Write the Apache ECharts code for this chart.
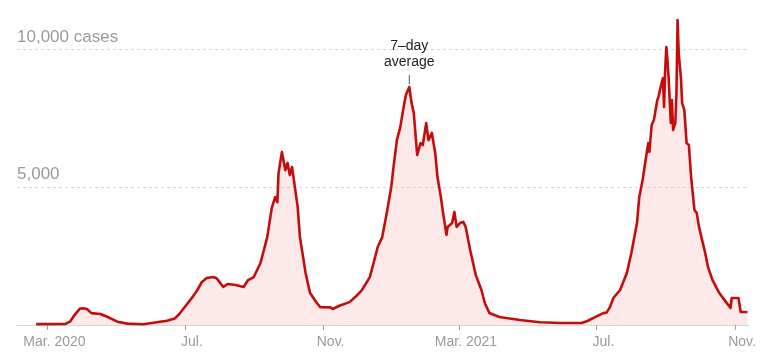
<!DOCTYPE html>
<html>
<head>
<meta charset="utf-8">
<script src="https://cdn.jsdelivr.net/npm/echarts@6/dist/echarts.min.js"></script>
<style>
html,body{margin:0;padding:0;background:#fff;}
#chart{width:770px;height:355px;}
</style>
</head>
<body>
<div id="chart"></div>
<script>
// Dates and 7-day average cases
const dates = [
 '2020-02-20','2020-03-17','2020-03-21','2020-03-25','2020-03-30','2020-04-02','2020-04-05','2020-04-09','2020-04-17','2020-04-23',
 '2020-05-02','2020-05-11','2020-05-25','2020-06-03','2020-06-15','2020-06-22','2020-06-26','2020-07-01','2020-07-08','2020-07-12',
 '2020-07-16','2020-07-20','2020-07-26','2020-07-29','2020-08-04','2020-08-08','2020-08-15','2020-08-22','2020-08-26','2020-08-31',
 '2020-09-06','2020-09-12','2020-09-16','2020-09-19','2020-09-21','2020-09-22','2020-09-25','2020-09-28','2020-09-30','2020-10-02',
 '2020-10-04','2020-10-06','2020-10-09','2020-10-11','2020-10-16','2020-10-20','2020-10-26','2020-10-29','2020-11-07','2020-11-09',
 '2020-11-15','2020-11-24','2020-12-01','2020-12-05','2020-12-12','2020-12-16','2020-12-19','2020-12-23','2020-12-27','2020-12-31',
 '2021-01-02','2021-01-05','2021-01-08','2021-01-11','2021-01-13','2021-01-16','2021-01-18','2021-01-20','2021-01-23','2021-01-26',
 '2021-01-28','2021-01-31','2021-02-02','2021-02-05','2021-02-08','2021-02-10','2021-02-13','2021-02-15','2021-02-18','2021-02-19',
 '2021-02-23','2021-02-25','2021-02-27','2021-03-02','2021-03-05','2021-03-07','2021-03-11','2021-03-16','2021-03-21','2021-03-24',
 '2021-03-28','2021-04-06','2021-04-24','2021-05-12','2021-05-30','2021-06-18','2021-06-23','2021-06-28','2021-07-07','2021-07-10',
 '2021-07-13','2021-07-16','2021-07-22','2021-07-28','2021-08-01','2021-08-06','2021-08-08','2021-08-11','2021-08-15','2021-08-16',
 '2021-08-17','2021-08-19','2021-08-21','2021-08-24','2021-08-25','2021-08-27','2021-08-29','2021-08-30','2021-08-31','2021-09-01',
 '2021-09-02','2021-09-03','2021-09-05','2021-09-06','2021-09-07','2021-09-09','2021-09-10','2021-09-11','2021-09-12','2021-09-14',
 '2021-09-15','2021-09-17','2021-09-19','2021-09-21','2021-09-23','2021-09-26','2021-09-28','2021-09-30','2021-10-05','2021-10-08',
 '2021-10-12','2021-10-18','2021-10-24','2021-10-28','2021-10-29','2021-11-04','2021-11-06','2021-11-10','2021-11-12'
];
const cases = [
 30,40,120,360,600,610,580,430,400,300,
 120,50,25,80,155,240,400,660,1030,1270,
 1560,1700,1740,1700,1380,1490,1450,1380,1630,1740,
 2250,3190,4250,4640,4460,5510,6280,5620,5880,5440,
 5730,5150,4280,3190,1890,1160,800,650,640,580,
 700,830,1090,1270,1740,2360,2830,3190,4060,5010,
 5730,6710,7180,7910,8350,8640,8060,7690,6170,6600,
 6530,7330,6710,6970,6240,5370,4640,4060,3270,3560,
 3700,4100,3560,3700,3740,3560,2720,1810,1270,800,
 435,290,180,100,70,75,145,250,430,450,
 650,980,1270,1890,2610,3700,4640,5260,6350,6600,
 6280,7260,7440,8160,8270,8640,8960,7910,9250,10090,
 9620,9000,7330,8160,7080,7330,8420,11070,9870,8960,
 8060,7800,6600,6530,5370,4170,4060,3560,2700,2100,
 1630,1160,830,620,980,980,470,470,460
];
// X tick dates and labels
const tickDates = ['2020-03-01','2020-07-01','2020-11-01','2021-03-01','2021-07-01','2021-11-01'];
const tickLabels = ['Mar. 2020','Jul.','Nov.','Mar. 2021','Jul.','Nov.'];
// X range
const xStart = '2020-02-03';
const xEnd = '2021-11-13';
// Y tick labels
const yTickValues = [5000, 10000];
const yTickLabels = ['5,000', '10,000 cases'];
// Annotation
const annotDate = '2021-01-16';
const annotText = '7–day\naverage';

// day number since 2020-03-01 (UTC, so no DST issues)
const dayNum = s => { const p = s.split('-').map(Number); return Math.round((Date.UTC(p[0], p[1]-1, p[2]) - Date.UTC(2020, 2, 1)) / 86400000); };
const tickDays = tickDates.map(dayNum);

const chart = echarts.init(document.getElementById('chart'), null, {renderer:'canvas'});
const font = '"Liberation Sans", Arial, sans-serif';
chart.setOption({
  animation: false,
  grid: {left: 17, right: 21.4, top: 15, bottom: 30},
  xAxis: {
    type: 'value',
    min: dayNum(xStart),
    max: dayNum(xEnd),
    axisLine: {show: true, onZero: false, lineStyle: {color: '#d6d6d6', width: 1}},
    axisTick: {show: true, customValues: tickDays, length: 5, lineStyle: {color: '#a0a0a0'}},
    axisLabel: {
      customValues: tickDays,
      margin: 10,
      padding: [0, 0, 0, 14],
      color: '#9a9a9a',
      fontSize: 14,
      fontFamily: font,
      formatter: function (v) {
        const i = tickDays.indexOf(v);
        return i >= 0 ? tickLabels[i] : '';
      }
    },
    splitLine: {show: false}
  },
  yAxis: {
    type: 'value',
    min: 0,
    max: 11250,
    interval: 5000,
    axisLine: {show: false},
    axisTick: {show: false},
    axisLabel: {
      inside: true,
      margin: 0,
      verticalAlign: 'bottom',
      padding: [0, 0, 4, 0],
      color: '#9a9a9a',
      fontSize: 17,
      fontFamily: font,
      showMaxLabel: false,
      formatter: function (v) {
        const i = yTickValues.indexOf(v);
        return i >= 0 ? yTickLabels[i] : '';
      }
    },
    splitLine: {show: true, showMinLine: false, showMaxLine: false, lineStyle: {color: '#d6d6d6', type: [3, 3], width: 1}}
  },
  series: [{
    type: 'line',
    data: dates.map((d, i) => [dayNum(d), cases[i]]),
    showSymbol: false,
    symbol: 'none',
    lineStyle: {color: '#c40d0d', width: 2.6, join: 'round'},
    areaStyle: {color: 'rgba(246,165,155,0.33)'},
    z: 3,
    markPoint: {
      silent: true,
      symbol: 'rect',
      symbolSize: [1, 9],
      itemStyle: {color: '#555'},
      label: {
        show: true,
        position: 'top',
        distance: 5,
        formatter: annotText,
        color: '#222',
        fontSize: 14,
        lineHeight: 16,
        fontFamily: font,
        align: 'center'
      },
      data: [{coord: [dayNum(annotDate), 8910]}]
    }
  }]
});
</script>
</body>
</html>
